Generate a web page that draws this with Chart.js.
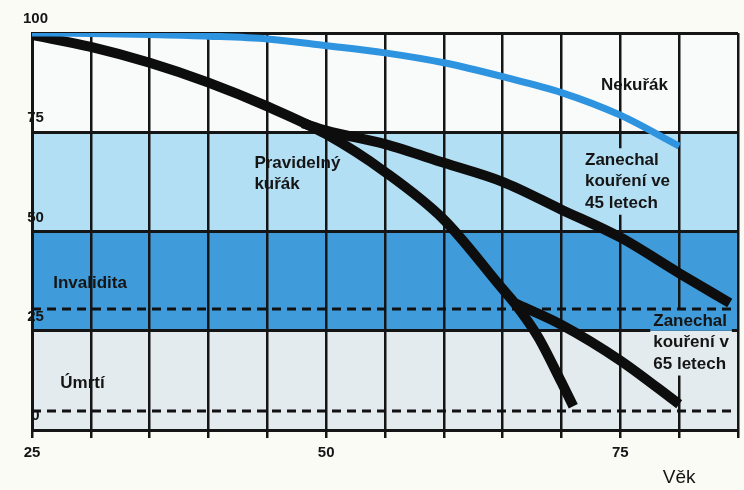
<!DOCTYPE html>
<html>
<head>
<meta charset="utf-8">
<script src="https://cdn.jsdelivr.net/npm/chart.js@4.4.1/dist/chart.umd.min.js"></script>
<style>
    html, body { margin: 0; padding: 0; background: #fbfbf6; }
    #wrap { width: 744px; height: 490px; }
</style>
</head>
<body>
<div id="wrap"><canvas id="chart"></canvas></div>
<script>
// Lung function (% of value at age 25) against age.
var yTicks = [0, 25, 50, 75, 100];
var xLabels = [25, 50, 75];

var nonSmokerAges = [25, 30, 35, 40, 45, 50, 55, 60, 65, 70, 75, 80];
var nonSmokerValues = [100, 99.9, 99.6, 99.2, 98.5, 96.8, 95, 92.5, 89, 85, 79.3, 71.5];

var smokerAges = [25, 30, 35, 40, 45, 50, 55, 60, 65, 66, 68, 70, 71];
var smokerValues = [99.5, 96.5, 92.5, 87.5, 81.5, 74.5, 65, 53, 35.5, 32, 23.5, 12, 6];

var quit45Ages = [48, 50, 55, 60, 65, 70, 75, 80, 84.3];
var quit45Values = [77.3, 75.4, 72, 67.3, 62.5, 55.5, 48.5, 39.5, 32];

var quit65Ages = [66, 70, 75, 80];
var quit65Values = [32, 26.5, 17.5, 6.5];

var disabilityLevel = 30.5;
var deathLevel = 4.8;

var bandEdges = [0, 25, 50, 75, 100];

var ink = '#151515';
var textFont = 'bold 17px "Liberation Sans", Arial, sans-serif';

function points(xs, ys) {
    return xs.map(function (x, i) { return {x: x, y: ys[i]}; });
}

function fillBands(ctx, yScale, x0, x1) {
    var colours = ['#e4ebee', '#3f9bd9', '#b3dff4', '#f9fbfb'];
    for (var i = 0; i < colours.length; i++) {
        var top = yScale.getPixelForValue(bandEdges[i + 1]);
        var bottom = yScale.getPixelForValue(bandEdges[i]);
        ctx.fillStyle = colours[i];
        ctx.fillRect(x0, top, x1 - x0, bottom - top);
    }
}

var notes = [
    {lines: ['Nekuřák'], age: 76.2, value: 86.9, align: 'center'},
    {lines: ['Pravidelný', 'kuřák'], age: 43.9, value: 67.3, align: 'left'},
    {lines: ['Zanechal', 'kouření ve', '45 letech'], age: 72.0, value: 68, align: 'left', knock: true},
    {lines: ['Zanechal', 'kouření v', '65 letech'], age: 77.8, value: 27.5, align: 'left', knock: true},
    {lines: ['Invalidita'], age: 26.8, value: 37, align: 'left'},
    {lines: ['Úmrtí'], age: 27.4, value: 11.8, align: 'left'}
];
var lineHeight = 21.5;

var paper = {
    id: 'paper',
    beforeDraw: function (chart) {
        var ctx = chart.ctx;
        var a = chart.chartArea;
        ctx.save();
        ctx.fillStyle = '#fbfbf6';
        ctx.fillRect(0, 0, chart.width, chart.height);
        fillBands(ctx, chart.scales.y, a.left, a.right);
        ctx.restore();
    },
    beforeDatasetsDraw: function (chart) {
        // labels that hide the grid lines behind them
        var ctx = chart.ctx;
        ctx.save();
        ctx.font = textFont;
        notes.forEach(function (n) {
            if (!n.knock) {
                return;
            }
            var x = chart.scales.x.getPixelForValue(n.age);
            var y = chart.scales.y.getPixelForValue(n.value);
            var w = Math.max.apply(null, n.lines.map(function (l) { return ctx.measureText(l).width; }));
            ctx.save();
            ctx.beginPath();
            ctx.rect(x - 3, y - lineHeight / 2 - 1, w + 6, lineHeight * n.lines.length + 2);
            ctx.clip();
            fillBands(ctx, chart.scales.y, chart.chartArea.left, chart.chartArea.right);
            ctx.restore();
        });
        ctx.restore();
    },
    afterDatasetsDraw: function (chart) {
        var ctx = chart.ctx;
        ctx.save();
        ctx.font = textFont;
        ctx.fillStyle = ink;
        ctx.textBaseline = 'middle';
        notes.forEach(function (n) {
            var x = chart.scales.x.getPixelForValue(n.age);
            var y = chart.scales.y.getPixelForValue(n.value);
            ctx.textAlign = n.align;
            n.lines.forEach(function (l, i) {
                ctx.fillText(l, x, y + i * lineHeight);
            });
        });
        ctx.font = '19px "Liberation Sans", Arial, sans-serif';
        ctx.textAlign = 'center';
        ctx.fillText('Věk', chart.scales.x.getPixelForValue(80), chart.chartArea.bottom + 48);
        ctx.restore();
    }
};

function curve(label, xs, ys, colour, width) {
    return {
        label: label,
        data: points(xs, ys),
        borderColor: colour,
        borderWidth: width,
        pointRadius: 0,
        cubicInterpolationMode: 'monotone',
        borderJoinStyle: 'round',
        fill: false
    };
}

function level(label, value) {
    return {
        label: label,
        data: [{x: 25, y: value}, {x: 85, y: value}],
        borderColor: '#111',
        borderWidth: 3,
        borderDash: [9, 6],
        pointRadius: 0,
        fill: false
    };
}

var ctx = document.getElementById('chart');
new Chart(ctx, {
    type: 'line',
    data: {
        datasets: [
            curve('Nekuřák', nonSmokerAges, nonSmokerValues, '#2e94e0', 7),
            curve('Pravidelný kuřák', smokerAges, smokerValues, '#0d0d0d', 10),
            curve('Zanechal kouření ve 45 letech', quit45Ages, quit45Values, '#0d0d0d', 10),
            curve('Zanechal kouření v 65 letech', quit65Ages, quit65Values, '#0d0d0d', 10),
            level('Invalidita', disabilityLevel),
            level('Úmrtí', deathLevel)
        ]
    },
    options: {
        responsive: true,
        maintainAspectRatio: false,
        animation: false,
        layout: {
            padding: {left: 0, right: 4, top: 33, bottom: 20}
        },
        plugins: {
            legend: {display: false},
            tooltip: {enabled: false},
            title: {display: false}
        },
        scales: {
            x: {
                type: 'linear',
                min: 25,
                max: 85,
                afterFit: function (s) { s.height = 40; },
                border: {display: true, color: ink, width: 3},
                grid: {color: ink, lineWidth: 2.5, drawTicks: true, tickLength: 8},
                ticks: {
                    stepSize: 5,
                    autoSkip: false,
                    maxRotation: 0,
                    padding: 6,
                    color: ink,
                    font: {family: '"Liberation Sans", Arial, sans-serif', size: 15, weight: 'bold'},
                    callback: function (v) {
                        return xLabels.indexOf(v) >= 0 ? String(v) : '';
                    }
                }
            },
            y: {
                min: 0,
                max: 100,
                afterFit: function (s) { s.width = 32; },
                afterBuildTicks: function (s) {
                    s.ticks = yTicks.map(function (v) { return {value: v}; });
                },
                border: {display: true, color: ink, width: 3},
                grid: {color: ink, lineWidth: 3, drawTicks: false},
                ticks: {
                    mirror: true,
                    crossAlign: 'center',
                    padding: -9,
                    labelOffset: -14,
                    color: ink,
                    font: {family: '"Liberation Sans", Arial, sans-serif', size: 15, weight: 'bold'}
                }
            }
        }
    },
    plugins: [paper]
});
</script>
</body>
</html>
